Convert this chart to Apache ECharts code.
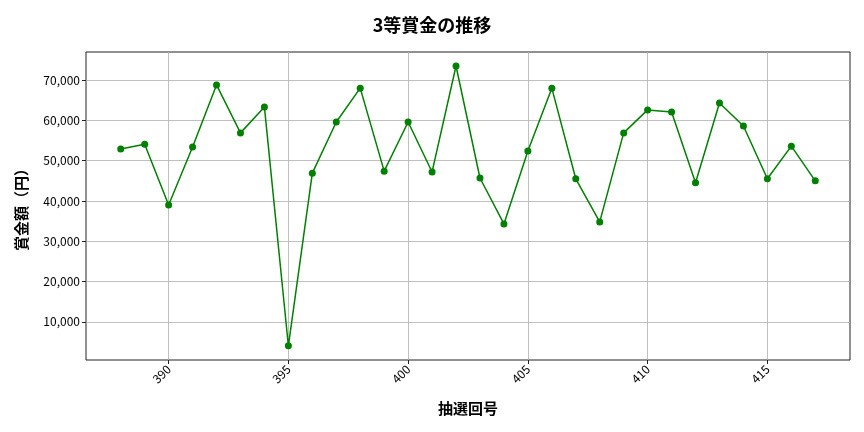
<!DOCTYPE html>
<html><head><meta charset="utf-8">
<script src="https://cdn.jsdelivr.net/npm/echarts@6/dist/echarts.min.js"></script>
<style>html,body{margin:0;padding:0;background:#fff}#c{width:864px;height:432px}</style>
</head><body><div id="c"></div>
<script>
const draws = [388,389,390,391,392,393,394,395,396,397,398,399,400,401,402,403,404,405,406,407,408,409,410,411,412,413,414,415,416,417];
const prizes = [52900,54100,39000,53400,68800,56900,63300,4050,46900,59600,68000,47400,59600,47200,73500,45700,34300,52400,68000,45500,34800,56900,62600,62100,44500,64300,58600,45500,53600,45000];
const xTicks = [390,395,400,405,410,415];
const yTicks = [10000,20000,30000,40000,50000,60000,70000];
const FONT = '"Noto Sans CJK JP", "Noto Sans", sans-serif';
const chart = echarts.init(document.getElementById('c'), null, {renderer:'canvas'});
chart.setOption({
  animation:false,
  backgroundColor:'#fff',
  title:{text:'3等賞金の推移', left:'center', top:11, textStyle:{fontFamily:FONT, fontSize:18, fontWeight:'bold', color:'#000'}},
  grid:{left:86, right:14, top:52, bottom:72, show:true, borderColor:'#222', borderWidth:1, backgroundColor:'transparent'},
  xAxis:{type:'value', min:386.55, max:418.45,
    name:'抽選回号', nameLocation:'middle', nameGap:41,
    nameTextStyle:{fontFamily:FONT, fontSize:15, fontWeight:'bold', color:'#000'},
    axisLine:{show:false},
    axisTick:{show:true, customValues:xTicks, length:4, lineStyle:{color:'#222'}},
    axisLabel:{customValues:xTicks, rotate:45, fontFamily:FONT, fontSize:12, color:'#000', margin:7},
    splitLine:{show:true, lineStyle:{color:'#b0b0b0', width:0.8}}},
  yAxis:{type:'value', min:525, max:76975,
    name:'賞金額（円）', nameLocation:'middle', nameGap:57, nameRotate:90,
    nameTextStyle:{fontFamily:FONT, fontSize:15, fontWeight:'bold', color:'#000'},
    axisLine:{show:false},
    axisTick:{show:true, customValues:yTicks, length:4, lineStyle:{color:'#222'}},
    axisLabel:{customValues:yTicks, fontFamily:FONT, fontSize:12, color:'#000', margin:6,
      formatter:v=>v.toLocaleString('en-US')},
    splitLine:{show:true, lineStyle:{color:'#b0b0b0', width:0.8}}},
  series:[{type:'line', data:draws.map((d,i)=>[d,prizes[i]]),
    symbol:'circle', symbolSize:7, showSymbol:true,
    lineStyle:{color:'#008000', width:1.5}, itemStyle:{color:'#008000'}}]
});
</script></body></html>
